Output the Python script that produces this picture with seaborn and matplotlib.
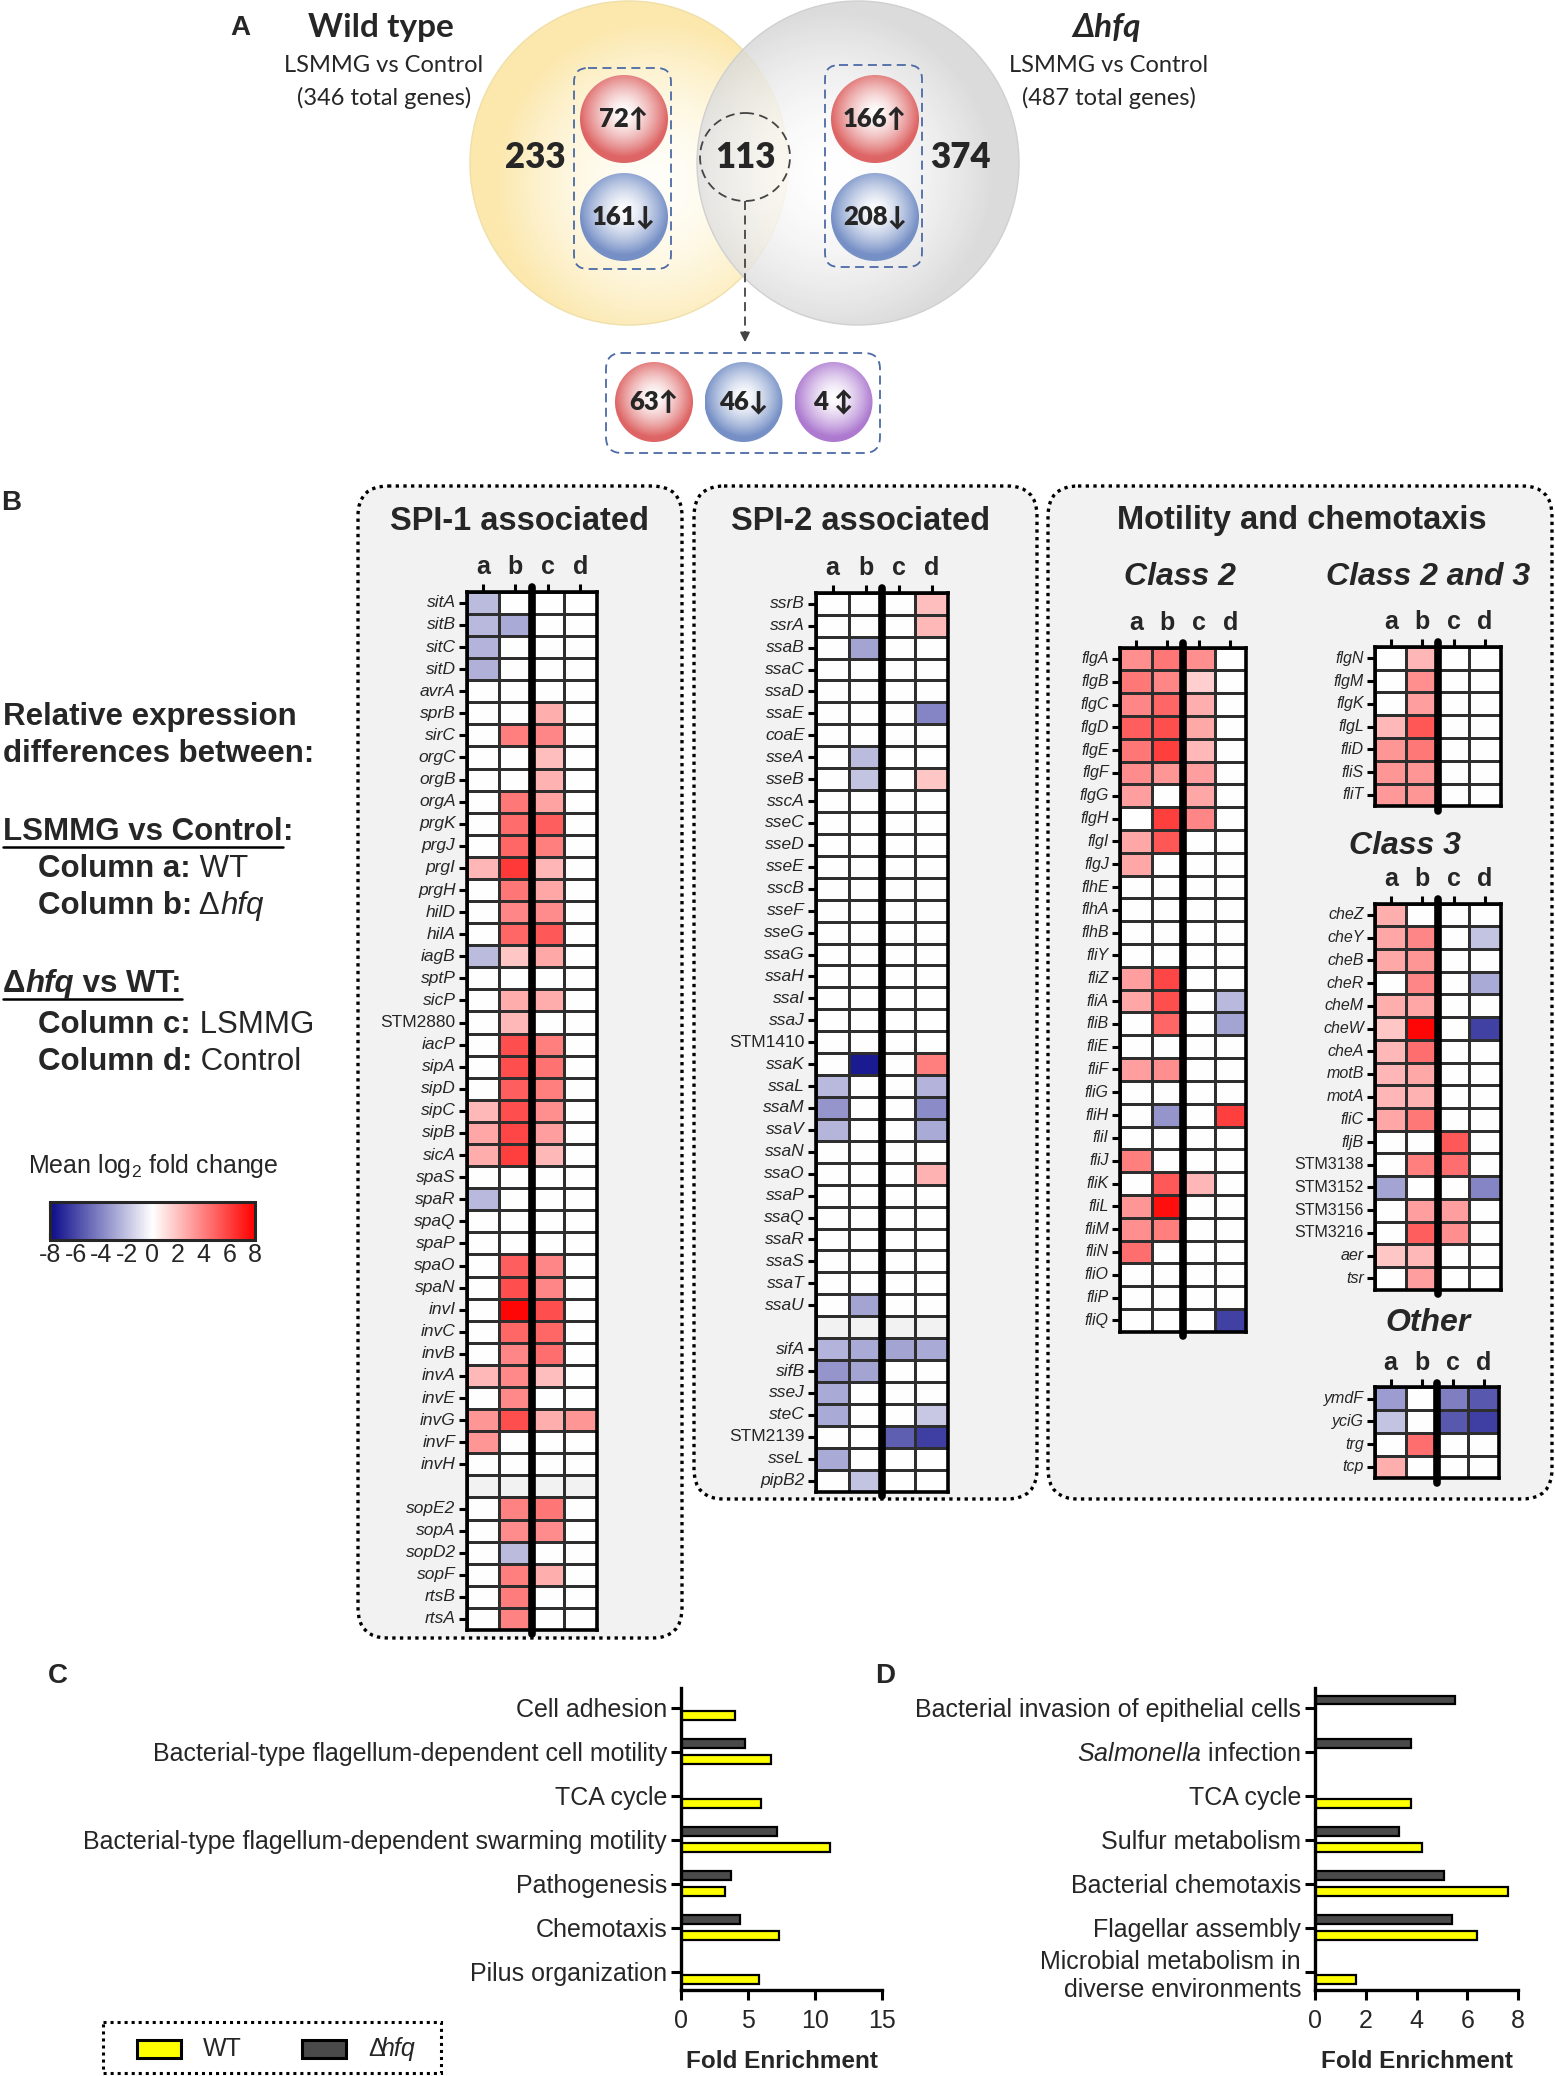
import numpy as np
import pandas as pd
import matplotlib
matplotlib.use("Agg")
import matplotlib.pyplot as plt
import seaborn as sns
from matplotlib.colors import LinearSegmentedColormap, Normalize, to_rgb
from matplotlib.patches import Ellipse, FancyBboxPatch, Rectangle
from matplotlib.cm import ScalarMappable

sns.set_style("white")
plt.rcParams["font.family"] = ["Liberation Sans", "DejaVu Sans"]
plt.rcParams["mathtext.fontset"] = "custom"
plt.rcParams["mathtext.rm"] = "Liberation Sans"
plt.rcParams["mathtext.it"] = "Liberation Sans:italic"
plt.rcParams["mathtext.bf"] = "Liberation Sans:bold"
plt.rcParams["axes.unicode_minus"] = False

nan = np.nan

# ---------------- Panel A data ----------------
venn_only_wt = 233
venn_shared = 113
venn_only_hfq = 374
wt_up_down = ["72↑", "161↓"]
hfq_up_down = ["166↑", "208↓"]
shared_split = ["63↑", "46↓", "4 ↕"]

# ---------------- Panel B data ----------------
spi1_genes = ["sitA", "sitB", "sitC", "sitD", "avrA", "sprB", "sirC", "orgC", "orgB", "orgA",
              "prgK", "prgJ", "prgI", "prgH", "hilD", "hilA", "iagB", "sptP", "sicP", "STM2880",
              "iacP", "sipA", "sipD", "sipC", "sipB", "sicA", "spaS", "spaR", "spaQ", "spaP",
              "spaO", "spaN", "invI", "invC", "invB", "invA", "invE", "invG", "invF", "invH",
              "", "sopE2", "sopA", "sopD2", "sopF", "rtsB", "rtsA"]
spi1_a = [-2.2, -2.3, -2.5, -2.6, 0, 0, 0, 0, 0, 0, 0, 0,
          2.3, 0, 0, 0, -2.2, 0, 0, 0,
          0, 0, 0, 2.2, 2.8, 2.6, 0, -2.3,
          0, 0, 0, 0, 0, 0, 0,
          2.2, 0, 3.3, 3.3, 0, nan, 0, 0, 0, 0, 0, 0]
spi1_b = [0, -2.8, 0, 0, 0, 0, 4.0, 0, 0, 4.2, 4.6, 4.8, 6.2, 4.3, 3.8, 4.8, 1.8, 0, 2.6, 2.2,
          5.5, 5.5, 5.0, 5.5, 5.8, 6.0, 0, 0, 0, 0, 5.0, 5.5, 7.8, 4.8, 3.8, 3.7, 3.7, 5.5, 0, 0,
          nan, 3.9, 3.6, -2.2, 4.0, 4.1, 3.9]
spi1_c = [0, 0, 0, 0, 0, 2.5, 3.8, 2.0, 2.4, 2.9, 5.0, 4.0, 2.3, 2.8, 3.6, 5.2, 2.7, 0, 2.6, 0,
          4.0, 4.4, 4.0, 3.5, 3.0, 2.2, 0, 0, 0, 0, 3.8, 3.8, 5.5, 4.8, 4.5, 2.0, 0, 2.5, 0, 0,
          nan, 4.3, 3.6, 0, 2.5, 0, 0]
spi1_d = [0] * 37 + [3.3, 0, 0, nan, 0, 0, 0, 0, 0, 0]

spi2_genes = ["ssrB", "ssrA", "ssaB", "ssaC", "ssaD", "ssaE", "coaE", "sseA", "sseB", "sscA",
              "sseC", "sseD", "sseE", "sscB", "sseF", "sseG", "ssaG", "ssaH", "ssaI", "ssaJ",
              "STM1410", "ssaK", "ssaL", "ssaM", "ssaV", "ssaN", "ssaO", "ssaP", "ssaQ", "ssaR",
              "ssaS", "ssaT", "ssaU", "", "sifA", "sifB", "sseJ", "steC", "STM2139", "sseL", "pipB2"]
spi2_a = [0] * 22 + [-2.3, -3.5, -2.4, 0, 0, 0, 0, 0, 0, 0, 0,
                     nan, -2.5, -3.5, -2.8, -2.8, 0, -2.8, 0]
spi2_b = [0, 0, -3.0, 0, 0, 0, 0, -2.2, -2.0] + [0] * 12 + [-7.5] + [0] * 10 + [-3.0,
          nan, -2.8, -3.0, 0, 0, 0, 0, -2.0]
spi2_c = [0] * 33 + [nan, -3.0, 0, 0, 0, -5.2, 0, 0]
spi2_d = [2.0, 2.2, 0, 0, 0, -4.0, 0, 0, 1.8] + [0] * 12 + [4.0, -2.5, -3.8, -2.8, 0, 2.4,
          0, 0, 0, 0, 0, 0, nan, -2.8, 0, 0, -1.8, -6.3, 0, 0]

class2_genes = ["flgA", "flgB", "flgC", "flgD", "flgE", "flgF", "flgG", "flgH", "flgI", "flgJ",
                "flhE", "flhA", "flhB", "fliY", "fliZ", "fliA", "fliB", "fliE", "fliF", "fliG",
                "fliH", "fliI", "fliJ", "fliK", "fliL", "fliM", "fliN", "fliO", "fliP", "fliQ"]
class2_a = [3.5, 4.2, 3.8, 5.0, 4.3, 3.6, 3.0, 0, 2.8, 2.8, 0, 0, 0, 0,
            3.0, 2.8, 0, 0, 3.0, 0, 0, 0, 4.0, 0, 3.3, 3.5, 4.5, 0, 0, 0]
class2_b = [4.3, 3.8, 4.8, 5.5, 6.0, 3.3, 0, 6.0, 5.3, 0, 0, 0, 0, 0,
            5.8, 5.5, 4.8, 0, 3.5, 0, -3.5, 0, 0, 5.2, 7.5, 4.0, 0, 0, 0, 0]
class2_c = [3.5, 1.5, 2.5, 2.7, 2.2, 3.0, 2.8, 3.8, 0, 0, 0, 0, 0, 0,
            0, 0, 0, 0, 0, 0, 0, 0, 0, 2.3, 0, 0, 0, 0, 0, 0]
class2_d = [0] * 15 + [-2.3, -3.0, 0, 0, 0, 6.0, 0, 0, 0, 0, 0, 0, 0, 0, -6.2]

class23_genes = ["flgN", "flgM", "flgK", "flgL", "fliD", "fliS", "fliT"]
class23_a = [0, 0, 0, 2.2, 3.3, 3.3, 3.2]
class23_b = [2.3, 3.5, 3.0, 5.3, 4.2, 3.3, 3.3]
class23_c = [0, 0, 0, 0, 0, 0, 0]
class23_d = [0, 0, 0, 0, 0, 0, 0]

class3_genes = ["cheZ", "cheY", "cheB", "cheR", "cheM", "cheW", "cheA", "motB", "motA", "fliC",
                "fljB", "STM3138", "STM3152", "STM3156", "STM3216", "aer", "tsr"]
class3_a = [2.5, 2.8, 2.7, 0, 2.5, 1.8, 2.2, 2.3, 2.3, 2.8, 0, 0, -3.0, 0, 0, 1.8, 0]
class3_b = [0, 3.8, 3.3, 3.8, 2.8, 7.8, 4.5, 2.7, 2.4, 4.2, 0, 4.0, 0, 3.0, 5.0, 2.2, 3.0]
class3_c = [0, 0, 0, 0, 0, 0, 0, 0, 0, 0, 5.2, 4.5, 0, 3.0, 3.5, 0, 0]
class3_d = [0, -2.0, 0, -2.8, 0, -6.2, 0, 0, 0, 0, 0, 0, -4.0, 0, 0, 0, 0]

other_genes = ["ymdF", "yciG", "trg", "tcp"]
other_a = [-3.2, -2.0, 0, 2.5]
other_b = [0, 0, 4.5, 0]
other_c = [-4.2, -5.5, 0, 0]
other_d = [-5.5, -6.3, 0, 0]

col_labels = ["a", "b", "c", "d"]
cbar_ticks = [-8, -6, -4, -2, 0, 2, 4, 6, 8]

# ---------------- Panel C / D data ----------------
c_terms = ["Cell adhesion", "Bacterial-type flagellum-dependent cell motility", "TCA cycle",
           "Bacterial-type flagellum-dependent swarming motility", "Pathogenesis", "Chemotaxis",
           "Pilus organization"]
c_wt = [4.0, 6.7, 6.0, 11.1, 3.3, 7.3, 5.8]
c_hfq = [nan, 4.8, nan, 7.2, 3.7, 4.4, nan]

d_terms = ["Bacterial invasion of epithelial cells", r"$\mathit{Salmonella}$ infection", "TCA cycle",
           "Sulfur metabolism", "Bacterial chemotaxis", "Flagellar assembly",
           "Microbial metabolism in\ndiverse environments"]
d_wt = [nan, nan, 3.8, 4.2, 7.6, 6.4, 1.6]
d_hfq = [5.5, 3.8, nan, 3.3, 5.1, 5.4, nan]

strains = ["Δhfq", "WT"]
strain_colors = {"WT": "#ffff00", "Δhfq": "#4a4a4a"}

# ---------------- figure ----------------
W, H = 1555, 2076
fig = plt.figure(figsize=(W / 100, H / 100), dpi=100)
fig.patch.set_facecolor("white")


def add_ax(x0, y0, x1, y1):
    return fig.add_axes([x0 / W, 1 - y1 / H, (x1 - x0) / W, (y1 - y0) / H])


bg = add_ax(0, 0, W, H)
bg.axis("off")
bg.set_zorder(0)

cmap = LinearSegmentedColormap.from_list("bwr_gp", ["#0b0b8a", "#ffffff", "#ff0000"])


def grad_ellipse(cx, cy, w, h, inner, outer, fx=0.0, fy=0.0, power=1.6, alpha=1.0, z=1, edge="none"):
    n = 300
    xs = np.linspace(cx - w / 2, cx + w / 2, n)
    ys = np.linspace(cy - h / 2, cy + h / 2, n)
    X, Y = np.meshgrid(xs, ys)
    r = np.sqrt(((X - (cx + fx)) / (w / 2)) ** 2 + ((Y - (cy + fy)) / (h / 2)) ** 2)
    t = np.clip(r, 0, 1) ** power
    ci, co = np.array(to_rgb(inner)), np.array(to_rgb(outer))
    rgb = ci[None, None, :] * (1 - t[..., None]) + co[None, None, :] * t[..., None]
    im = bg.imshow(rgb, extent=(cx - w / 2, cx + w / 2, cy + h / 2, cy - h / 2), origin="upper",
                   zorder=z, alpha=alpha, interpolation="bilinear", aspect="auto")
    e = Ellipse((cx, cy), w, h, facecolor="none", edgecolor=edge, lw=1.0, zorder=z + 0.05)
    bg.add_patch(e)
    im.set_clip_path(e)


def rbox(x0, y0, x1, y1, r, **kw):
    p = FancyBboxPatch((x0, y0), x1 - x0, y1 - y0, boxstyle=f"round,pad=0,rounding_size={r}", **kw)
    bg.add_patch(p)


VFONT = ["Lato", "DejaVu Sans"]

# ---------------- Panel A: Venn ----------------
grad_ellipse(629, 163, 318, 324, "#fffef8", "#fce8ad", fx=25, fy=20, power=1.8, z=1, edge="#efdfa8")
grad_ellipse(858, 163, 322, 324, "#ffffff", "#d4d4d4", fx=-25, fy=10, power=1.8, alpha=0.82, z=2, edge="#d0d0d0")

bg.text(240, 28, "A", fontsize=20, fontweight="bold", ha="center", va="center")
bg.text(381, 28, "Wild type", fontsize=24, fontweight="bold", family=VFONT, ha="center", va="center", zorder=10)
bg.text(384, 65, "LSMMG vs Control", fontsize=17, family=VFONT, ha="center", va="center", zorder=10)
bg.text(384, 98, "(346 total genes)", fontsize=17, family=VFONT, ha="center", va="center", zorder=10)
bg.text(1107, 28, "Δhfq", fontsize=24, fontweight="bold", fontstyle="italic", family=VFONT,
        ha="center", va="center", zorder=10)
bg.text(1109, 65, "LSMMG vs Control", fontsize=17, family=VFONT, ha="center", va="center", zorder=10)
bg.text(1109, 98, "(487 total genes)", fontsize=17, family=VFONT, ha="center", va="center", zorder=10)

num_kw = dict(fontsize=25, fontweight="heavy", family=VFONT, ha="center", va="center", zorder=10)
bg.text(535, 158, str(venn_only_wt), **num_kw)
bg.text(745, 158, str(venn_shared), **num_kw)
bg.text(960, 158, str(venn_only_hfq), **num_kw)
bg.add_patch(Ellipse((745, 157), 90, 88, facecolor="none", edgecolor="#444444", lw=1.3,
                     linestyle=(0, (5, 3)), zorder=6))

dash_blue = dict(facecolor="none", edgecolor="#4b6aa5", lw=1.3, linestyle=(0, (5, 3)), zorder=6)
rbox(574, 68, 671, 269, 14, **dash_blue)
rbox(825, 65, 922, 267, 14, **dash_blue)
rbox(606, 353, 880, 453, 16, **dash_blue)

RED, BLUE, PURP = "#de6565", "#7690c6", "#ad7ad0"
ball_kw = dict(fontsize=18.5, fontweight="heavy", family=VFONT, ha="center", va="center", zorder=10)
for (cx, cy), col, txt in zip([(624, 119), (624, 217)], [RED, BLUE], wt_up_down):
    grad_ellipse(cx, cy, 88, 88, "#ffffff", col, fx=0, fy=-6, power=1.5, z=7)
    bg.text(cx, cy, txt, **ball_kw)
for (cx, cy), col, txt in zip([(875, 119), (875, 217)], [RED, BLUE], hfq_up_down):
    grad_ellipse(cx, cy, 88, 88, "#ffffff", col, fx=0, fy=-6, power=1.5, z=7)
    bg.text(cx, cy, txt, **ball_kw)
for cx, col, txt in zip([654, 743.5, 833.5], [RED, BLUE, PURP], shared_split):
    grad_ellipse(cx, 402, 78, 80, "#ffffff", col, fx=0, fy=-5, power=1.5, z=7)
    bg.text(cx, 402, txt, **ball_kw)

bg.plot([745, 745], [201, 333], color="#444444", lw=1.3, linestyle=(0, (5, 3)), zorder=6)
bg.annotate("", xy=(745, 345), xytext=(745, 330),
            arrowprops=dict(arrowstyle="-|>", color="#444444", lw=1.3, mutation_scale=14), zorder=6)

# ---------------- Panel B: left text ----------------
renderer = fig.canvas.get_renderer()


def rich(x, y, pieces, size):
    cur = x
    ends = []
    for txt, kw in pieces:
        t = bg.text(cur, y, txt, fontsize=size, va="center", ha="left", zorder=10, **kw)
        bb = t.get_window_extent(renderer=renderer)
        cur += bb.width
        ends.append(cur)
    return ends


B = dict(fontweight="bold")
bg.text(11, 503, "B", fontsize=20, fontweight="bold", ha="center", va="center")
LS = 22.5
rich(3, 717, [("Relative expression", B)], LS)
rich(3, 754, [("differences between:", B)], LS)
e = rich(3, 832, [("LSMMG vs Control", B), (":", B)], LS)
bg.plot([3, e[0]], [847, 847], color="black", lw=1.8)
rich(38, 869, [("Column a:", B), (" WT", {})], LS)
rich(38, 906, [("Column b:", B), (" Δ", {}), ("hfq", dict(fontstyle="italic"))], LS)
e = rich(3, 984, [("Δ", B), ("hfq", dict(fontweight="bold", fontstyle="italic")), (" vs WT:", B)], LS)
bg.plot([3, e[-1]], [999, 999], color="black", lw=1.8)
rich(38, 1025, [("Column c:", B), (" LSMMG", {})], LS)
rich(38, 1062, [("Column d:", B), (" Control", {})], LS)
bg.text(28, 1166, r"Mean log$_2$ fold change", fontsize=18, ha="left", va="center")

cax = add_ax(50, 1202, 255, 1240)
cb = fig.colorbar(ScalarMappable(norm=Normalize(-8, 8), cmap=cmap), cax=cax,
                  orientation="horizontal", ticks=cbar_ticks)
cb.outline.set_linewidth(2.2)
cax.tick_params(axis="x", direction="in", length=5, width=1.5, top=True, bottom=True,
                labelsize=18, pad=2, color="black")

# ---------------- Panel B: boxes and titles ----------------
box_kw = dict(facecolor="#f2f2f2", edgecolor="black", lw=2.4, linestyle=(0, (1, 1.3)), zorder=1)
rbox(358, 486, 682, 1638, 30, **box_kw)
rbox(694, 486, 1037, 1499, 30, **box_kw)
rbox(1048, 486, 1552, 1499, 30, **box_kw)

bg.text(520, 521, "SPI-1 associated", fontsize=23.5, fontweight="bold", ha="center", va="center", zorder=10)
bg.text(861, 521, "SPI-2 associated", fontsize=23.5, fontweight="bold", ha="center", va="center", zorder=10)
bg.text(1302, 521, "Motility and chemotaxis", fontsize=23.5, fontweight="bold", ha="center", va="center", zorder=10)
sub = dict(fontsize=23, fontweight="bold", fontstyle="italic", ha="center", va="center", zorder=10)
bg.text(1180, 577, "Class 2", **sub)
bg.text(1428, 577, "Class 2 and 3", **sub)
bg.text(1405, 846, "Class 3", **sub)
bg.text(1428, 1323, "Other", **sub)


def heat(box, genes, cols, labsize):
    x0, y0, x1, y1 = box
    ax = add_ax(x0, y0, x1, y1)
    ax.set_zorder(3)
    idx_names = [g if g else " " for g in genes]
    df = pd.DataFrame(dict(zip(col_labels, cols)), index=idx_names)
    sns.heatmap(df, ax=ax, cmap=cmap, vmin=-8, vmax=8, cbar=False, linewidths=0.9,
                linecolor="#2e2e2e", xticklabels=True, yticklabels=True)
    ax.set_facecolor("#f2f2f2")
    n = len(genes)
    idx = [i for i, g in enumerate(genes) if g]
    ax.set_yticks([i + 0.5 for i in idx])
    ax.set_yticklabels([genes[i] for i in idx], rotation=0)
    for t in ax.get_yticklabels():
        t.set_fontstyle("normal" if t.get_text().startswith("STM") else "italic")
        t.set_fontsize(labsize)
    ax.xaxis.tick_top()
    ax.set_xticks([0.5, 1.5, 2.5, 3.5])
    ax.set_xticklabels(col_labels, fontweight="bold", fontsize=18, rotation=0)
    ax.tick_params(axis="x", top=True, bottom=False, labeltop=True, labelbottom=False,
                   length=6, width=2.2, pad=3, color="black")
    ax.tick_params(axis="y", left=True, length=6, width=2.2, pad=2, color="black")
    for s in ax.spines.values():
        s.set_visible(True)
        s.set_linewidth(2.6)
        s.set_color("black")
    ax.plot([2, 2], [-0.2, n + 0.2], color="black", lw=5.5, solid_capstyle="round",
            clip_on=False, zorder=6)
    ax.set_xlabel("")
    ax.set_ylabel("")
    return ax


heat((466.7, 591.8, 596.7, 1630), spi1_genes, [spi1_a, spi1_b, spi1_c, spi1_d], 12.5)
heat((816, 592.8, 948, 1491.6), spi2_genes, [spi2_a, spi2_b, spi2_c, spi2_d], 12.5)
heat((1120, 647.5, 1246, 1331.8), class2_genes, [class2_a, class2_b, class2_c, class2_d], 11.5)
heat((1375, 646.9, 1500.7, 806.3), class23_genes, [class23_a, class23_b, class23_c, class23_d], 11.5)
heat((1375, 903.6, 1500.7, 1289.7), class3_genes, [class3_a, class3_b, class3_c, class3_d], 11.5)
heat((1375, 1387.3, 1499, 1478.3), other_genes, [other_a, other_b, other_c, other_d], 11.5)


# ---------------- Panels C and D ----------------
def long_df(terms, wt, hfq):
    rows = []
    for t, w, h in zip(terms, wt, hfq):
        if not np.isnan(h):
            rows.append((t, "Δhfq", h))
        if not np.isnan(w):
            rows.append((t, "WT", w))
    return pd.DataFrame(rows, columns=["term", "strain", "value"])


def bars(box, terms, wt, hfq, xmax, xticks):
    ax = add_ax(*box)
    ax.set_zorder(3)
    df = long_df(terms, wt, hfq)
    sns.barplot(data=df, x="value", y="term", hue="strain", order=terms, hue_order=strains,
                palette=strain_colors, orient="h", width=0.72, gap=0.45, edgecolor="black",
                linewidth=1.6, saturation=1, errorbar=None, legend=False, ax=ax)
    ax.set_xlim(0, xmax)
    ax.set_ylim(6.42, -0.45)
    ax.set_xticks(xticks)
    ax.set_facecolor("none")
    for side in ["top", "right"]:
        ax.spines[side].set_visible(False)
    for side in ["left", "bottom"]:
        ax.spines[side].set_visible(True)
        ax.spines[side].set_linewidth(2.4)
        ax.spines[side].set_color("black")
    ax.tick_params(axis="both", left=True, bottom=True, length=7, width=2.2, color="black",
                   labelsize=18, pad=3)
    ax.tick_params(axis="x", pad=7)
    ax.set_ylabel("")
    ax.set_xlabel("Fold Enrichment", fontsize=17.5, fontweight="bold", labelpad=12)
    return ax


bars((681, 1688, 882, 1990), c_terms, c_wt, c_hfq, 15, [0, 5, 10, 15])
bars((1315, 1688, 1518, 1990), d_terms, d_wt, d_hfq, 8, [0, 2, 4, 6, 8])

bg.text(58, 1676, "C", fontsize=20, fontweight="bold", ha="center", va="center")
bg.text(885, 1676, "D", fontsize=20, fontweight="bold", ha="center", va="center")

# legend
bg.add_patch(Rectangle((103, 2022), 338, 51, facecolor="none", edgecolor="black", lw=2.2,
                       linestyle=(0, (1, 1.3)), zorder=5))
bg.add_patch(Rectangle((137, 2040), 44, 18, facecolor=strain_colors["WT"], edgecolor="black", lw=2.2, zorder=5))
bg.add_patch(Rectangle((302, 2040), 44, 18, facecolor=strain_colors["Δhfq"], edgecolor="black", lw=2.2, zorder=5))
bg.text(203, 2049, "WT", fontsize=18, ha="left", va="center")
bg.text(368, 2049, "Δ", fontsize=18, ha="left", va="center")
bg.text(381, 2049, "hfq", fontsize=18, fontstyle="italic", ha="left", va="center")

bg.set_xlim(0, W)
bg.set_ylim(H, 0)

fig.savefig("out.png", dpi=100, facecolor="white")
